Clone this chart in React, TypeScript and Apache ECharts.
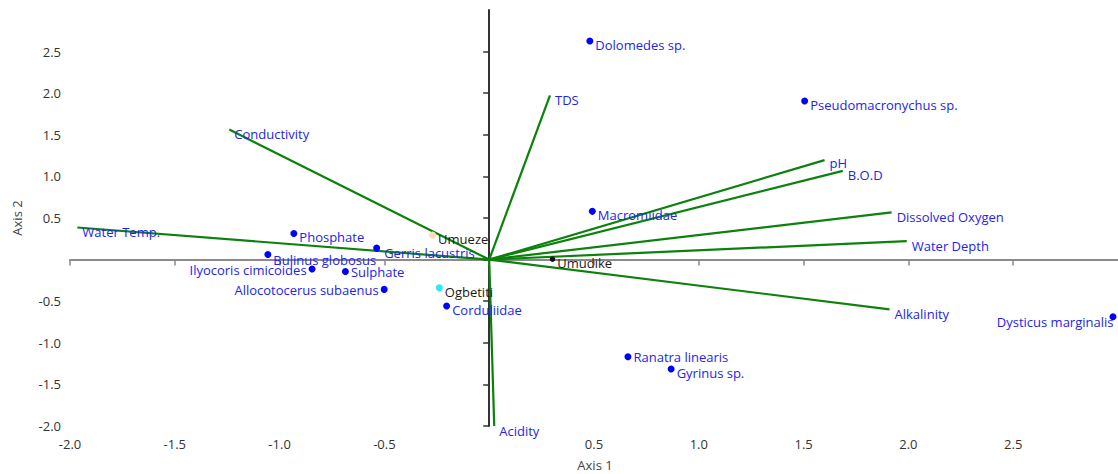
import React, { useEffect, useRef } from 'react';
import * as echarts from 'echarts';

// Axis ticks / labels
const axisTickValues = [-2, -1.5, -1, -0.5, 0, 0.5, 1, 1.5, 2, 2.5];
const axisLabelValues = [-2, -1.5, -1, -0.5, 0.5, 1, 1.5, 2, 2.5];

// Environmental vectors (biplot arrows)
const vectorNames = ['TDS', 'Conductivity', 'Water Temp.', 'pH', 'B.O.D', 'Dissolved Oxygen', 'Water Depth', 'Alkalinity', 'Acidity'];
const vectorX = [0.29, -1.24, -1.965, 1.6, 1.687, 1.92, 1.992, 1.91, 0.024];
const vectorY = [1.975, 1.563, 0.386, 1.195, 1.066, 0.567, 0.222, -0.598, -2.0];

// Species scores
const speciesNames = [
  'Dolomedes sp.', 'Pseudomacronychus sp.', 'Macromiidae', 'Phosphate', 'Gerris lacustris',
  'Bulinus globosus', 'Ilyocoris cimicoides', 'Sulphate', 'Allocotocerus subaenus', 'Corduliidae',
  'Ranatra linearis', 'Gyrinus sp.', 'Dysticus marginalis',
];
const speciesX = [0.48, 1.505, 0.492, -0.932, -0.537, -1.056, -0.845, -0.686, -0.501, -0.203, 0.662, 0.868, 2.976];
const speciesY = [2.627, 1.906, 0.58, 0.314, 0.138, 0.062, -0.114, -0.142, -0.358, -0.558, -1.167, -1.314, -0.687];

// Site scores
const siteNames = ['Umueze', 'Ogbetiti', 'Umudike'];
const siteX = [-0.27, -0.238, 0.302];
const siteY = [0.294, -0.338, 0.006];

// Styles (kept apart from data)
const FONT = 'Open Sans';
const BLUE_TEXT = '#2323ee';
const siteColors: Record<string, string> = { Umueze: '#fbdcc0', Ogbetiti: '#22eeee', Umudike: '#111111' };
const siteSizes: Record<string, number> = { Umueze: 7, Ogbetiti: 7, Umudike: 5.5 };
const leftLabels: Record<string, number[]> = {
  'Ilyocoris cimicoides': [0, 1],
  'Allocotocerus subaenus': [0, 1],
  'Dysticus marginalis': [4, 5],
};
const rightLabelOffsets: Record<string, number[]> = {
  'Ranatra linearis': [0, 0.5],
  'Sulphate': [0, 1],
  'Gerris lacustris': [2, 5],
  'Bulinus globosus': [0, 5.5],
};
const vectorLabelOffset: Record<string, number[]> = { pH: [5, 2.5] };

export default function App() {
  const ref = useRef<HTMLDivElement>(null);

  useEffect(() => {
    if (!ref.current) return;
    const chart = echarts.init(ref.current, undefined, { renderer: 'svg' });

    const speciesData = speciesNames.map((n, i) => {
      const item: any = { name: n, value: [speciesX[i], speciesY[i]] };
      if (leftLabels[n]) {
        item.label = { position: 'left', distance: n === 'Dysticus marginalis' ? 0 : 2, offset: leftLabels[n] };
      } else if (rightLabelOffsets[n]) {
        item.label = { offset: rightLabelOffsets[n] };
      }
      return item;
    });

    const siteData = siteNames.map((n, i) => ({
      name: n,
      value: [siteX[i], siteY[i]],
      symbolSize: siteSizes[n],
      itemStyle: { color: siteColors[n], opacity: 1 },
    }));

    const vectorData = vectorNames.map((n, i) => ({ name: n, value: [vectorX[i], vectorY[i]] }));

    const axisCommon = {
      type: 'value',
      min: -2,
      max: 3,
      interval: 0.5,
      splitLine: { show: false },
      axisLine: { show: true, onZero: true },
    };

    chart.setOption({
      animation: false,
      grid: { left: 70, top: 10, width: 1050, height: 416 },
      xAxis: {
        ...axisCommon,
        axisLine: { show: true, onZero: true, lineStyle: { color: '#8a8a8a', width: 2 } },
        axisTick: { show: true, length: 6, customValues: axisTickValues, lineStyle: { color: '#8a8a8a', width: 1.5 } },
        axisLabel: {
          customValues: axisLabelValues,
          margin: 11,
          color: '#333',
          fontFamily: FONT,
          fontSize: 13,
          formatter: (v: number) => (v === 0 || v === 3 ? '' : v.toFixed(1)),
        },
      },
      yAxis: {
        ...axisCommon,
        axisLine: { show: true, onZero: true, lineStyle: { color: '#333', width: 2 } },
        axisTick: { show: true, length: 6, customValues: axisTickValues, lineStyle: { color: '#333', width: 1.5 } },
        axisLabel: {
          customValues: axisLabelValues,
          margin: 9,
          color: '#333',
          fontFamily: FONT,
          fontSize: 13,
          formatter: (v: number) => (v === 0 || v === 3 ? '' : v.toFixed(1)),
        },
      },
      graphic: [
        {
          type: 'text',
          x: 595,
          y: 465,
          style: { text: 'Axis 1', fill: '#444', fontFamily: FONT, fontSize: 13, align: 'center', verticalAlign: 'middle' },
        },
        {
          type: 'text',
          x: 17,
          y: 218,
          rotation: Math.PI / 2,
          style: { text: 'Axis 2', fill: '#444', fontFamily: FONT, fontSize: 13, align: 'center', verticalAlign: 'middle' },
        },
      ],
      series: [
        {
          type: 'custom',
          name: 'vectors',
          z: 3,
          data: vectorData,
          clip: false,
          renderItem: (params: any, api: any) => {
            const name = vectorNames[params.dataIndex];
            const p0 = api.coord([0, 0]);
            const p1 = api.coord([api.value(0), api.value(1)]);
            const off = vectorLabelOffset[name] || [5, 4.5];
            return {
              type: 'group',
              children: [
                {
                  type: 'line',
                  shape: { x1: p0[0], y1: p0[1], x2: p1[0], y2: p1[1] },
                  style: { stroke: '#0b820b', lineWidth: 2.2 },
                },
                {
                  type: 'text',
                  x: p1[0] + off[0],
                  y: p1[1] + off[1],
                  style: {
                    text: name,
                    fill: BLUE_TEXT,
                    fontFamily: FONT,
                    fontSize: 13,
                    align: 'left',
                    verticalAlign: 'middle',
                  },
                },
              ],
            };
          },
        },
        {
          type: 'scatter',
          name: 'species',
          z: 4,
          symbol: 'circle',
          symbolSize: 7,
          itemStyle: { color: '#0000ff', opacity: 1 },
          data: speciesData,
          label: {
            show: true,
            position: 'right',
            distance: 2,
            offset: [0, 4],
            formatter: '{b}',
            color: BLUE_TEXT,
            fontFamily: FONT,
            fontSize: 13,
          },
        },
        {
          type: 'scatter',
          name: 'sites',
          z: 4,
          symbol: 'circle',
          data: siteData,
          label: {
            show: true,
            position: 'right',
            distance: 2,
            offset: [0, 4],
            formatter: '{b}',
            color: '#1a1a1a',
            fontFamily: FONT,
            fontSize: 13,
          },
        },
      ],
    });

    return () => chart.dispose();
  }, []);

  return <div ref={ref} style={{ position: 'absolute', left: 0, top: 0, width: 1118, height: 474 }} />;
}
